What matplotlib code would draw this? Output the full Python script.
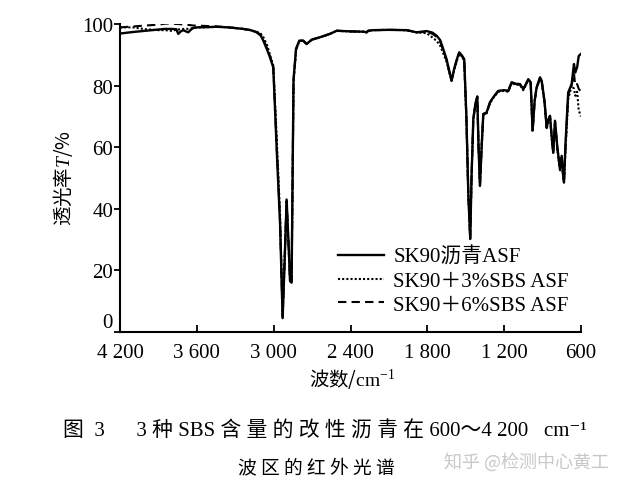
import matplotlib
matplotlib.use("Agg")
import matplotlib.pyplot as plt
from matplotlib.ticker import FixedLocator

plt.rcParams['mathtext.fontset'] = 'custom'
plt.rcParams['mathtext.rm'] = 'Liberation Serif'
plt.rcParams['mathtext.it'] = 'Liberation Serif:italic'
SERIF = ['Liberation Serif', 'Noto Sans CJK SC', 'DejaVu Sans']
CJK = ['Noto Sans CJK SC', 'DejaVu Sans']

# wavenumber grid (cm-1), shared by the three spectra
wn = [4200, 4100, 4000, 3900, 3850, 3800, 3760, 3745, 3725, 3706, 3685, 3667, 3645,
      3628, 3600, 3500, 3445, 3350, 3237, 3180, 3133, 3100, 3081, 3050, 3029, 3003,
      2975, 2950, 2930, 2915, 2899, 2885, 2872, 2860, 2850, 2845, 2825, 2800, 2769,
      2743, 2720, 2703, 2638, 2560, 2508, 2400, 2300, 2274, 2262, 2222, 2100, 1961,
      1884, 1805, 1760, 1727, 1700, 1676, 1650, 1630, 1611, 1590, 1570, 1551, 1530,
      1512, 1495, 1480, 1465, 1455, 1441, 1425, 1410, 1400, 1389, 1376, 1363, 1337,
      1311, 1280, 1246, 1200, 1168, 1142, 1110, 1077, 1051, 1030, 1012, 993, 978,
      962, 947, 920, 907, 885, 868, 855, 842, 830, 817, 803, 785, 764, 751, 742, 733,
      720, 700, 673, 655, 645, 630, 618, 600]

t_sk90 = [96.9, 97.4, 97.8, 98.2, 98.4, 98.4, 98.3, 96.8, 97.6, 98.0, 97.6, 97.3, 98.2,
          98.7, 98.9, 99.0, 99.1, 98.9, 98.4, 98.0, 97.3, 96.2, 94.6, 91.5, 89.2, 85.9,
          58.0, 35.0, 4.5, 22.0, 43.0, 30.0, 16.5, 16.0, 60.0, 82.0, 92.0, 94.6, 94.6,
          93.5, 94.3, 94.9, 95.7, 96.8, 97.8, 97.6, 97.5, 97.3, 97.8, 98.0, 98.1, 98.0,
          97.3, 97.7, 97.2, 96.2, 94.8, 91.9, 88.6, 85.0, 81.6, 85.5, 88.5, 90.8, 89.8,
          88.6, 70.0, 45.0, 30.2, 50.0, 69.2, 74.0, 76.5, 60.0, 47.5, 60.0, 70.8, 71.3,
          74.6, 76.5, 78.3, 78.5, 78.3, 81.1, 80.6, 80.5, 78.9, 80.5, 82.1, 81.1, 65.4,
          75.0, 79.4, 82.7, 81.6, 75.0, 66.4, 69.0, 70.2, 64.0, 58.3, 68.6, 60.0, 52.9,
          57.2, 52.0, 48.6, 62.0, 77.8, 80.5, 87.0, 84.2, 86.0, 89.6, 90.3]

t_sbs3 = [98.9, 98.9, 98.3, 98.0, 98.0, 97.8, 98.1, 98.2, 98.3, 98.4, 98.5, 98.4, 98.5,
          98.7, 98.9, 99.0, 99.1, 98.9, 98.4, 98.0, 97.5, 96.8, 95.8, 93.0, 90.0, 86.5,
          62.0, 38.0, 5.0, 23.0, 42.0, 29.0, 16.5, 17.0, 58.0, 81.0, 91.5, 94.4, 94.6,
          93.5, 94.3, 94.9, 95.7, 96.8, 97.8, 97.6, 97.5, 97.3, 97.8, 98.0, 98.1, 98.0,
          97.3, 97.0, 95.6, 94.5, 93.0, 90.5, 87.8, 84.5, 81.6, 85.0, 88.0, 90.3, 89.5,
          88.0, 69.0, 44.0, 30.5, 50.0, 69.0, 74.0, 76.0, 60.0, 47.5, 60.0, 70.5, 71.0,
          74.3, 76.3, 78.0, 78.3, 78.0, 80.8, 80.3, 80.2, 78.5, 80.2, 81.8, 80.8, 65.0,
          75.0, 79.0, 82.3, 81.2, 74.5, 66.0, 68.5, 69.8, 63.5, 58.0, 68.0, 59.5, 52.5,
          57.0, 51.5, 48.5, 60.0, 75.6, 80.0, 79.0, 76.7, 78.0, 72.0, 70.0]

t_sbs6 = [98.9, 99.2, 99.5, 99.8, 100.1, 100.2, 100.0, 100.0, 99.9, 99.9, 99.8, 99.7, 99.6,
          99.5, 99.5, 99.3, 99.2, 98.9, 98.4, 98.0, 97.4, 96.5, 95.0, 92.0, 89.5, 86.0,
          59.0, 36.0, 4.8, 22.5, 42.5, 29.5, 16.5, 16.5, 59.0, 81.5, 91.8, 94.5, 94.6,
          93.5, 94.3, 94.9, 95.7, 96.8, 97.8, 97.6, 97.5, 97.3, 97.8, 98.0, 98.1, 98.0,
          97.3, 97.5, 96.8, 95.8, 94.3, 91.5, 88.3, 84.8, 81.6, 85.3, 88.3, 90.5, 89.6,
          88.3, 69.5, 44.5, 30.3, 50.0, 69.0, 74.0, 76.3, 60.0, 47.5, 60.0, 70.6, 71.1,
          74.4, 76.4, 78.2, 78.4, 78.2, 81.0, 80.5, 80.4, 78.7, 80.4, 82.0, 81.0, 65.2,
          75.0, 79.2, 82.5, 81.4, 74.8, 66.2, 68.8, 70.0, 63.8, 58.2, 68.3, 59.8, 52.7,
          57.1, 51.8, 48.6, 61.0, 77.0, 80.2, 84.0, 80.0, 80.5, 79.0, 78.0]

labels = ['SK90沥青ASF', 'SK90＋3%SBS ASF', 'SK90＋6%SBS ASF']
xticks = [4200, 3600, 3000, 2400, 1800, 1200, 600]
xticklabels = ['4 200', '3 600', '3 000', '2 400', '1 800', '1 200', '600']
yticks = [0, 20, 40, 60, 80, 100]

fig = plt.figure(figsize=(6.23, 4.89), dpi=100)
ax = fig.add_axes([120 / 623, 1 - 333 / 489, 461 / 623, 308 / 489])

ax.plot(wn, t_sbs6, color='black', lw=1.5, ls=(0, (4, 2.5)), label=labels[2], zorder=2)
ax.plot(wn, t_sbs3, color='black', lw=1.5, ls=(0, (1, 1)), label=labels[1], zorder=3)
ax.plot(wn, t_sk90, color='black', lw=1.7, ls='-', label=labels[0], zorder=4)

ax.set_xlim(4200, 600)
ax.set_ylim(0, 100)
ax.xaxis.set_major_locator(FixedLocator(xticks))
ax.set_xticklabels(xticklabels)
ax.yaxis.set_major_locator(FixedLocator(yticks))

for s in ['top', 'right']:
    ax.spines[s].set_visible(False)
for s in ['left', 'bottom']:
    ax.spines[s].set_linewidth(1.5)
ax.tick_params(axis='x', direction='in', length=5, width=1.3, pad=8)
ax.tick_params(axis='y', direction='out', length=4, width=1.3, pad=1)
for lab in ax.get_xticklabels() + ax.get_yticklabels():
    lab.set_fontfamily(SERIF)
    lab.set_fontsize(15)
# keep the "0" clear of the "4 200" below it
ax.get_yticklabels()[0].set_va('bottom')

handles, labs = ax.get_legend_handles_labels()
order = [2, 1, 0]
leg = ax.legend([handles[i] for i in order], [labs[i] for i in order],
                loc='upper left', bbox_to_anchor=((338 - 120) / 461, (333 - 248) / 308),
                frameon=False, prop={'family': SERIF, 'size': 15},
                handlelength=2.2, handletextpad=0.45, labelspacing=0.2,
                borderaxespad=0, borderpad=0)

fig.text(352 / 623, 1 - 379 / 489, '波数/$\\mathrm{cm}^{-1}$', ha='center', va='center',
         fontfamily=CJK, fontsize=14)
fig.text(63 / 623, 1 - 178 / 489, '透光率$T$/%', ha='center', va='center',
         rotation=90, fontfamily=CJK, fontsize=14)

fig.text(325 / 623, 1 - 432 / 489,
         '图  3      3 种 SBS 含 量 的 改 性 沥 青 在 600～4 200   cm⁻¹',
         ha='center', va='center', fontfamily=SERIF, fontsize=15)
fig.text(316 / 623, 1 - 468 / 489, '波 区 的 红 外 光 谱', ha='center', va='center',
         fontfamily=CJK, fontsize=13.5)
fig.text(526 / 623, 1 - 462 / 489, '知乎 @检测中心黄工', ha='center', va='center',
         fontfamily=CJK, fontsize=13, color='#c8c8c8')

fig.savefig('out.png', dpi=100)
